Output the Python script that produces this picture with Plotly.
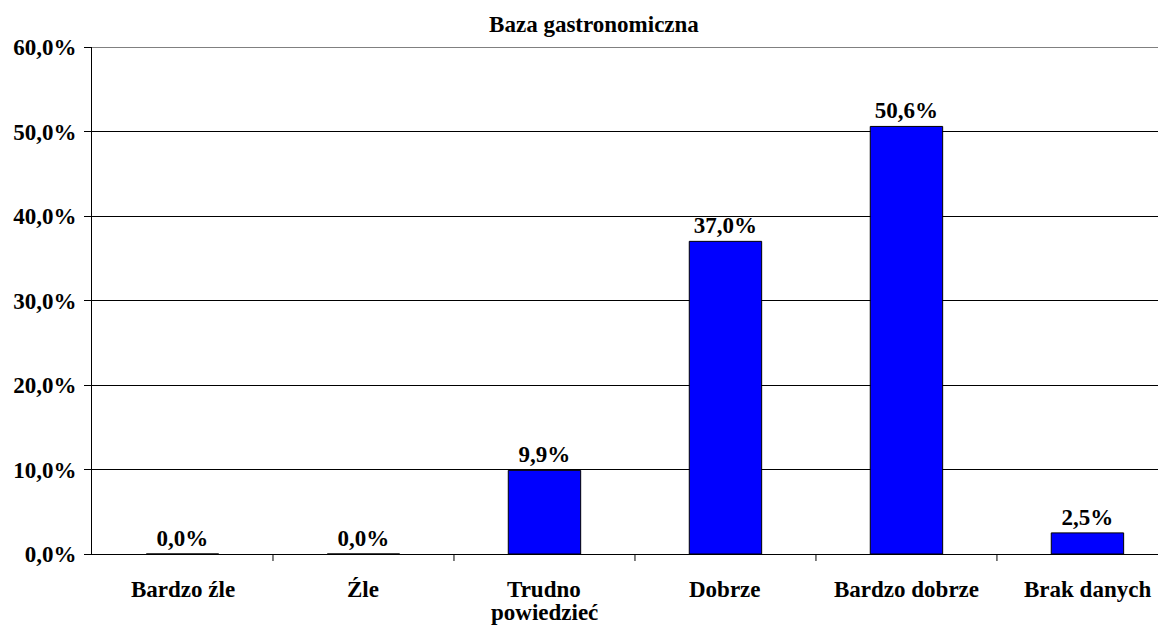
import plotly.graph_objects as go

categories = ["Bardzo źle", "Źle", "Trudno<br>powiedzieć", "Dobrze", "Bardzo dobrze", "Brak danych"]
values = [0.0, 0.0, 0.099, 0.370, 0.506, 0.025]
labels = ["0,0%", "0,0%", "9,9%", "37,0%", "50,6%", "2,5%"]
y_ticks = [0, 0.1, 0.2, 0.3, 0.4, 0.5, 0.6]
y_ticktext = ["0,0%", "10,0%", "20,0%", "30,0%", "40,0%", "50,0%", "60,0%"]

FONT = "Liberation Serif"
FS = 23

xs = list(range(len(categories)))

fig = go.Figure(go.Bar(
    x=xs,
    y=values,
    width=0.4,
    marker=dict(color="#0000FF", line=dict(color="black", width=1)),
    text=labels,
    texttemplate="<b>%{text}</b>",
    textposition="outside",
    textfont=dict(family=FONT, size=FS, color="black"),
    cliponaxis=False,
))

# page body has an 8px margin: compensate so the plot lands where the reference is
fig.update_layout(
    width=1166, height=628,
    margin=dict(l=84, r=8, t=39, b=82, autoexpand=False),
    paper_bgcolor="white", plot_bgcolor="white",
    showlegend=False,
    title=dict(text="<b>Baza gastronomiczna</b>", x=586 / 1166, xanchor="center",
               y=1 - 16 / 628, yanchor="middle",
               font=dict(family=FONT, size=FS, color="black")),
    font=dict(family=FONT, color="black"),
)

fig.update_xaxes(
    tickmode="array", tickvals=xs, ticktext=[""] * len(xs),
    range=[-0.5, 5.434],
    showline=True, linecolor="black", linewidth=1,
    showgrid=False, zeroline=False, ticks="", automargin=False,
)

# category labels, one annotation per line
for i, c in enumerate(categories):
    for j, line in enumerate(c.split("<br>")):
        fig.add_annotation(x=i, xref="x", y=0, yref="paper", yanchor="top",
                           text="<b>%s</b>" % line, showarrow=False,
                           yshift=-21 - 23 * j,
                           font=dict(family=FONT, size=FS, color="black"))

# boundary ticks between categories
for b in [0.5, 1.5, 2.5, 3.5, 4.5]:
    fig.add_shape(type="line", xref="x", yref="paper", x0=b, x1=b, y0=0, y1=-7 / 507,
                  line=dict(color="black", width=1))

# top frame line (grey)
fig.add_shape(type="line", xref="paper", yref="y", x0=0, x1=1, y0=0.6, y1=0.6,
              line=dict(color="#808080", width=2))

fig.update_yaxes(
    range=[0, 0.6],
    tickmode="array", tickvals=y_ticks,
    ticktext=["<b>%s</b>" % t for t in y_ticktext],
    showgrid=True, gridcolor="black", gridwidth=1,
    showline=True, linecolor="black", linewidth=1,
    zeroline=False, automargin=False,
    ticks="outside", ticklen=7, tickcolor="black",
    tickfont=dict(family=FONT, size=FS, color="black"),
    ticklabelstandoff=3,
)

fig.write_html("out.html")
